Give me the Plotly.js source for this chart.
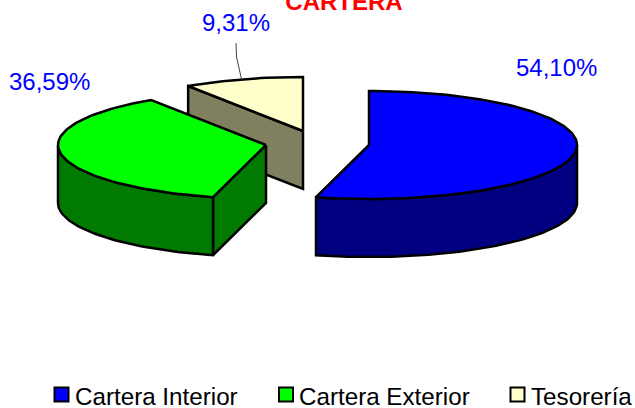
<!DOCTYPE html>
<html><head><meta charset="utf-8">
<script src="https://cdn.plot.ly/plotly-3.0.1.min.js"></script>
<style>html,body{margin:0;padding:0;background:#fff;overflow:hidden}#c{width:635px;height:408px}</style>
</head><body><div id="c"></div>
<script>
const categories = ['Cartera Interior', 'Cartera Exterior', 'Tesorería'];
const values = [54.10, 36.59, 9.31];
const chartTitle = 'CARTERA';

const topColors = ['#0000ff', '#00ff00', '#ffffcc'];
const sideColors = ['#000080', '#007a00', '#808060'];
const centers = [[369, 145], [266, 145], [303, 131]];
const RX = 208, RY = 54, DEPTH = 58;
const labelPos = [[556, 67], [49, 81], [236, 22]];
const legendPos = [[61.5, 394.5], [286, 394.5], [517.5, 394.5]];
const legendTextX = [75, 299, 531];
const legendTextY = 396;

const total = values.reduce((a, b) => a + b, 0);
const pt = (c, deg, dz = 0) => {
  const r = deg * Math.PI / 180;
  return [c[0] + RX * Math.sin(r), c[1] - RY * Math.cos(r) + dz];
};
const arc = (c, a0, a1, dz = 0) => {
  const n = Math.max(2, Math.ceil(Math.abs(a1 - a0) / 1.5)), out = [];
  for (let i = 0; i <= n; i++) out.push(pt(c, a0 + (a1 - a0) * i / n, dz));
  return out;
};
const poly = (pts, fill) => ({
  type: 'scatter', mode: 'lines', showlegend: false, hoverinfo: 'skip',
  x: [...pts.map(p => p[0]), pts[0][0]], y: [...pts.map(p => p[1]), pts[0][1]],
  fill: 'toself', fillcolor: fill, line: { color: '#000', width: 2.5, shape: 'linear' }
});

const slices = [];
let acc = 0;
values.forEach((v, i) => {
  const a0 = acc / total * 360;
  acc += v;
  slices.push({ i, a0, a1: acc / total * 360, c: centers[i] });
});

const traces = [];
[2, 1, 0].forEach(i => {
  const s = slices[i], c = s.c;
  const lower = [c[0], c[1] + DEPTH];
  // cut face at the start angle, visible when it runs towards the viewer
  if (s.a0 > 180 && s.a0 < 360) {
    const rim = pt(c, s.a0);
    traces.push(poly([c, rim, [rim[0], rim[1] + DEPTH], lower], sideColors[i]));
  }
  // outer wall: only the part on the front half of the ellipse
  const w0 = Math.max(s.a0, 90), w1 = Math.min(s.a1, 270);
  if (w1 > w0) {
    traces.push(poly([...arc(c, w0, w1), ...arc(c, w1, w0, DEPTH)], sideColors[i]));
  }
  // top
  traces.push(poly([c, ...arc(c, s.a0, s.a1)], topColors[i]));
});

// leader line for the small slice
const mid = (slices[2].a0 + slices[2].a1) / 2;
const anchor = pt(slices[2].c, mid);
traces.push({
  type: 'scatter', mode: 'lines', showlegend: false, hoverinfo: 'skip',
  x: [labelPos[2][0], labelPos[2][0] + 0.5, anchor[0] - 1.5],
  y: [labelPos[2][1] + 21, labelPos[2][1] + 35, anchor[1]],
  line: { color: '#444', width: 1 }
});

// legend swatches
traces.push({
  type: 'scatter', mode: 'markers', showlegend: false, hoverinfo: 'skip',
  x: legendPos.map(p => p[0]), y: legendPos.map(p => p[1]), cliponaxis: false,
  marker: { symbol: 'square', size: 14, color: topColors, line: { color: '#000', width: 2 } }
});

const fmt = v => v.toFixed(2).replace('.', ',') + '%';
const annotations = values.map((v, i) => ({
  x: labelPos[i][0], y: labelPos[i][1], xref: 'x', yref: 'y',
  text: fmt(v), showarrow: false, xanchor: 'center', yanchor: 'middle',
  font: { family: 'Liberation Sans', size: 24, color: '#0000ff' }
})).concat(categories.map((t, i) => ({
  x: legendTextX[i], y: legendTextY, xref: 'x', yref: 'y',
  text: t, showarrow: false, xanchor: 'left', yanchor: 'middle', xshift: -2,
  font: { family: 'Liberation Sans', size: 24.2, color: '#000' }
})));

Plotly.newPlot('c', traces, {
  width: 635, height: 408,
  margin: { l: 0, r: 0, t: 0, b: 0 },
  paper_bgcolor: '#fff', plot_bgcolor: '#fff',
  showlegend: false,
  title: { text: '<b>' + chartTitle + '</b>', x: 344 / 635, xanchor: 'center', y: 1 - 10 / 408, yanchor: 'bottom',
           font: { family: 'Liberation Sans', size: 24, color: '#ff0000' } },
  xaxis: { range: [0, 635], visible: false, fixedrange: true },
  yaxis: { range: [408, 0], visible: false, fixedrange: true },
  annotations
}, { displayModeBar: false, staticPlot: true });
</script></body></html>
